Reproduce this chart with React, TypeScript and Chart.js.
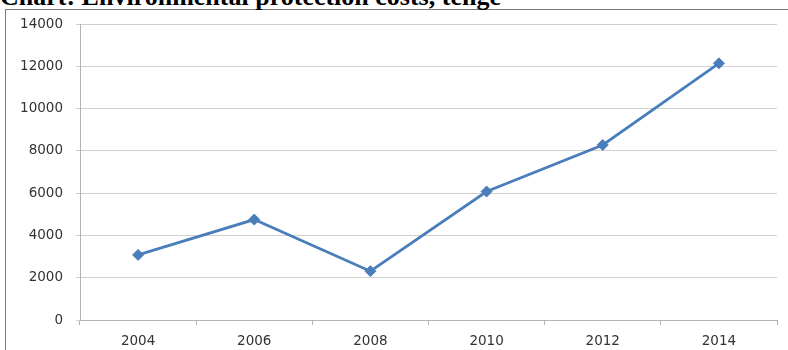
import React, { useEffect, useRef } from "react";
import { Chart, registerables } from "chart.js";

Chart.register(...registerables);

const years = ["2004", "2006", "2008", "2010", "2012", "2014"];
const costs = [3080, 4750, 2310, 6075, 8280, 12140];
const yMin = 0;
const yMax = 14000;
const yStep = 2000;

const lineBlue = "#4a7ebb";
const gridGray = "#d0d0d0";
const axisGray = "#b3b3b3";
const tickFont = { family: "DejaVu Sans, Verdana, sans-serif", size: 13.5 };

export default function App() {
  const canvasRef = useRef<HTMLCanvasElement | null>(null);

  useEffect(() => {
    const canvas = canvasRef.current;
    if (!canvas) return;
    const chart = new Chart(canvas, {
      type: "line",
      data: {
        labels: years,
        datasets: [
          {
            label: "Environmental protection costs, tenge",
            data: costs,
            borderColor: lineBlue,
            backgroundColor: lineBlue,
            borderWidth: 2.75,
            pointStyle: "rectRot",
            pointRadius: 5.5,
            pointBorderWidth: 1,
            pointBackgroundColor: lineBlue,
            pointBorderColor: lineBlue,
            tension: 0,
          },
        ],
      },
      options: {
        animation: false,
        responsive: false,
        maintainAspectRatio: false,
        layout: { padding: { left: 0, right: 11, top: 24, bottom: 0 } },
        plugins: {
          legend: { display: false },
          tooltip: { enabled: false },
          title: { display: false },
        },
        scales: {
          x: {
            offset: true,
            grid: {
              offset: true,
              drawOnChartArea: false,
              drawTicks: true,
              tickLength: 5,
              color: axisGray,
            },
            border: { display: true, color: axisGray, width: 1 },
            ticks: { color: "#333333", font: tickFont, padding: 8, maxRotation: 0 },
            afterFit: (scale: any) => {
              scale.height = 30;
            },
          },
          y: {
            min: yMin,
            max: yMax,
            ticks: {
              stepSize: yStep,
              color: "#333333",
              font: tickFont,
              padding: 13,
              callback: (v: any) => String(v),
            },
            grid: { color: gridGray, tickLength: 4, drawTicks: true },
            border: { display: true, color: axisGray, width: 1 },
            afterFit: (scale: any) => {
              scale.width = 80;
            },
          },
        },
      },
    });
    return () => chart.destroy();
  }, []);

  return (
    <div
      style={{
        position: "fixed",
        left: 0,
        top: 0,
        width: 788,
        height: 350,
        overflow: "hidden",
        background: "#ffffff",
      }}
    >
      <div
        style={{
          position: "absolute",
          left: 5,
          top: 9,
          width: 800,
          height: 360,
          border: "1px solid #7a7a7a",
          boxSizing: "border-box",
        }}
      />
      <div
        style={{
          position: "absolute",
          left: 0,
          top: -16,
          whiteSpace: "nowrap",
          fontFamily: "'Liberation Serif', 'Times New Roman', serif",
          fontWeight: "bold",
          fontSize: 26,
          lineHeight: "26px",
          color: "#000",
        }}
      >
        Chart: Environmental protection costs, tenge
      </div>
      <canvas
        ref={canvasRef}
        width={788}
        height={350}
        style={{ position: "absolute", left: 0, top: 0, width: 788, height: 350 }}
      />
    </div>
  );
}
